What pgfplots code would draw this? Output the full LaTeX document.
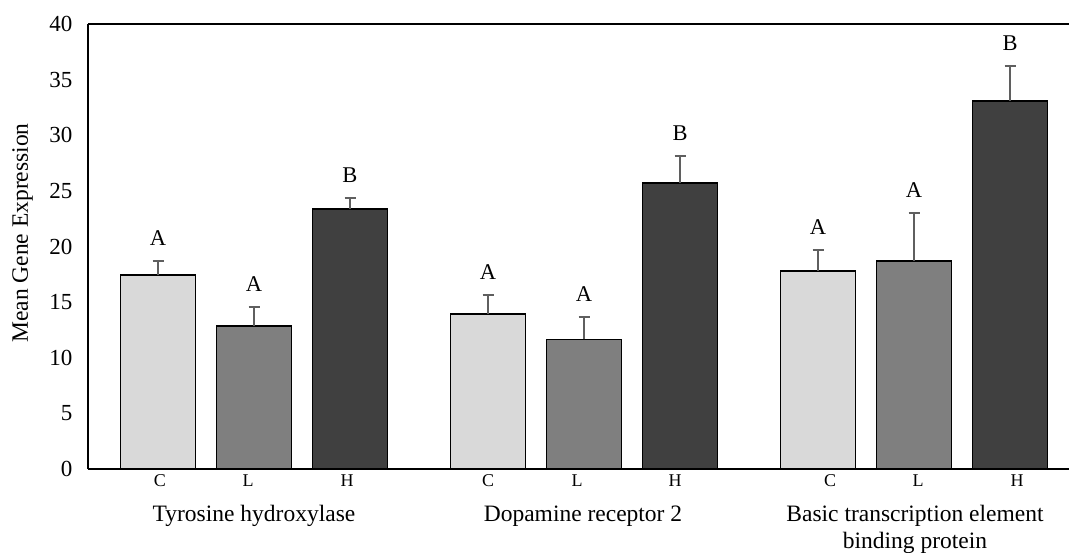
\documentclass[border=0pt]{standalone}
\usepackage{fontspec}
\setmainfont{Liberation Serif}
\usepackage{pgfplots}
\pgfplotsset{compat=1.18}
\definecolor{cC}{HTML}{D9D9D9}
\definecolor{cL}{HTML}{7F7F7F}
\definecolor{cH}{HTML}{404040}
\definecolor{errc}{HTML}{5F5F5F}
\begin{document}
\begin{tikzpicture}[x=1pt,y=1pt]
\begin{axis}[
  at={(88pt,-469pt)}, anchor=south west,
  scale only axis, width=990pt, height=445pt,
  xmin=88, xmax=1078, ymin=0, ymax=40,
  axis x line*=bottom, axis y line*=left,
  axis line style={black, line width=1.8pt},
  major tick length=0pt,
  ytick={0,5,...,40},
  xtick={160,248,347,488,577,675,830,918,1017},
  xticklabels={C,L,H,C,L,H,C,L,H},
  /pgf/number format/assume math mode=true,
  yticklabel style={font=\fontsize{23}{27}\selectfont, xshift=-12pt},
  xticklabel style={font=\fontsize{18}{21}\selectfont, yshift=-2pt},
  clip=false,
  error bars/y dir=plus, error bars/y explicit,
  error bars/error bar style={errc, line width=2.2pt},
  error bars/error mark options={errc, line width=2.2pt, mark size=5.5pt, rotate=90},
]
\addplot[ybar, bar width=75, bar shift=0pt, fill=cC, draw=black, line width=1.8pt]
  table[x=x, y=y, y error=e]{
x y e
158 17.41 1.30
488 13.93 1.68
818 17.83 1.83
};
\addplot[ybar, bar width=75, bar shift=0pt, fill=cL, draw=black, line width=1.8pt]
  table[x=x, y=y, y error=e]{
x y e
254 12.82 1.71
584 11.65 2.04
914 18.72 4.29
};
\addplot[ybar, bar width=75, bar shift=0pt, fill=cH, draw=black, line width=1.8pt]
  table[x=x, y=y, y error=e]{
x y e
350 23.34 1.05
680 25.68 2.49
1010 33.11 3.15
};
\addplot[draw=none, mark=none, nodes near coords, point meta=explicit symbolic,
  nodes near coords style={anchor=south, font=\fontsize{22.5}{26}\selectfont, yshift=12pt}]
  table[x=x, y=y, meta=lab]{
x y lab
158 18.71 A
254 14.53 A
350 24.39 B
488 15.61 A
584 13.69 A
680 28.17 B
818 19.66 A
914 23.01 A
1010 36.26 B
};
\draw[black, line width=1.8pt] (rel axis cs:0,1) -- (rel axis cs:1,1);
\node[anchor=base, font=\fontsize{23.5}{27}\selectfont, yshift=-52pt] at (axis cs:254,0) {Tyrosine hydroxylase};
\node[anchor=base, font=\fontsize{23.5}{27}\selectfont, yshift=-52pt] at (axis cs:583,0) {Dopamine receptor 2};
\node[anchor=base, font=\fontsize{23.5}{27}\selectfont, yshift=-52pt] at (axis cs:915,0) {Basic transcription element};
\node[anchor=base, font=\fontsize{23.5}{27}\selectfont, yshift=-79pt] at (axis cs:915,0) {binding protein};
\end{axis}
\node[rotate=90, font=\fontsize{23.5}{27}\selectfont] at (22.5pt,-233pt) {Mean Gene Expression};
\pgfresetboundingbox
\path[use as bounding box] (0,0) rectangle (1069pt,-552pt);
\end{tikzpicture}
\end{document}
